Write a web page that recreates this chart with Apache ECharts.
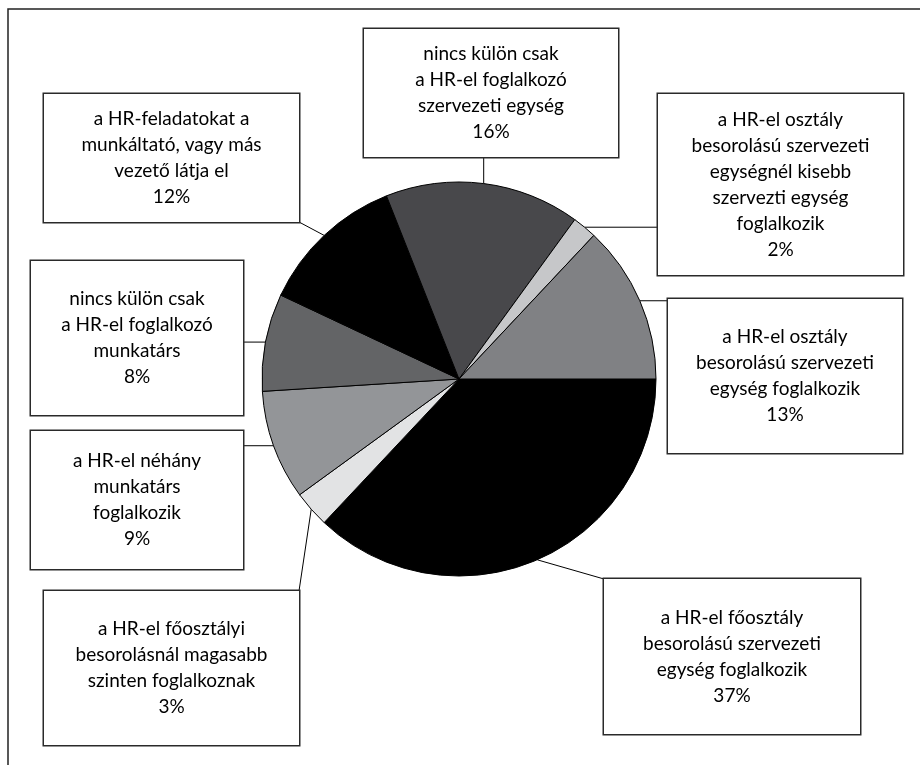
<!DOCTYPE html>
<html>
<head>
<meta charset="utf-8">
<script src="https://cdn.jsdelivr.net/npm/echarts@6/dist/echarts.min.js"></script>
<style>
  html, body { margin: 0; padding: 0; background: #fff; }
  #main { width: 920px; height: 765px; }
</style>
</head>
<body>
<div id="main"></div>
<script>
// slices, clockwise from 3 o'clock
var categories = [
    'a HR-el főosztály\nbesorolású szervezeti\negység foglalkozik',
    'a HR-el főosztályi\nbesorolásnál magasabb\nszinten foglalkoznak',
    'a HR-el néhány\nmunkatárs\nfoglalkozik',
    'nincs külön csak\na HR-el foglalkozó\nmunkatárs',
    'a HR-feladatokat a\nmunkáltató, vagy más\nvezető látja el',
    'nincs külön csak\na HR-el foglalkozó\nszervezeti egység',
    'a HR-el osztály\nbesorolású szervezeti\negységnél kisebb\nszervezti egység\nfoglalkozik',
    'a HR-el osztály\nbesorolású szervezeti\negység foglalkozik'
];
var values = [37, 3, 9, 8, 12, 16, 2, 13];
var colors = ['#000000', '#e2e3e4', '#939598', '#636466', '#000000', '#48484b', '#c6c7c9', '#808184'];

// label boxes: left, top, width, height (px)
var boxes = [
    [604, 579, 256, 155],
    [44, 591, 255, 154],
    [31, 431, 212, 138],
    [31, 261, 212, 154],
    [44, 94, 255, 128],
    [364, 29, 254, 128],
    [658, 94, 245, 181],
    [668, 299, 234, 154]
];
var LINE_H = 26;

(function () {
    var myChart = echarts.init(document.getElementById('main'));

    var data = values.map(function (v, i) {
        var b = boxes[i];
        var lines = categories[i].split('\n').length + 1;
        var pv = (b[3] - lines * LINE_H) / 2;
        return {
            name: categories[i],
            value: v,
            itemStyle: { color: colors[i] },
            label: { width: b[2], padding: [pv, 0, pv, 0] }
        };
    });

    myChart.setOption({
        backgroundColor: '#ffffff',
        animation: false,
        graphic: [{
            type: 'polyline',
            shape: { points: [[8, 765], [8, 9], [920, 9]] },
            style: { stroke: '#222', lineWidth: 1.5, fill: null }
        }],
        series: [{
            type: 'pie',
            center: [459, 379],
            radius: 197,
            startAngle: 0,
            clockwise: true,
            avoidLabelOverlap: false,
            itemStyle: { borderColor: '#000', borderWidth: 1 },
            label: {
                show: true,
                position: 'outside',
                formatter: '{b}\n{c}%',
                fontFamily: 'Lato',
                fontSize: 19,
                lineHeight: LINE_H,
                color: '#000',
                backgroundColor: '#fff',
                borderColor: '#2a2a2a',
                borderWidth: 1.5
            },
            labelLine: {
                show: true,
                length: 10,
                length2: 0,
                lineStyle: { color: '#000', width: 1 }
            },
            labelLayout: function (p) {
                var b = boxes[p.dataIndex];
                // connector: from slice edge point to the nearest point of the box
                var s = p.labelLinePoints[0];
                var ex = Math.min(Math.max(s[0], b[0]), b[0] + b[2]);
                var ey = Math.min(Math.max(s[1], b[1]), b[1] + b[3]);
                return {
                    x: b[0] + b[2] / 2,
                    y: b[1],
                    align: 'center',
                    verticalAlign: 'top',
                    labelLinePoints: [[s[0], s[1]], [ex, ey]]
                };
            },
            emphasis: { disabled: true },
            data: data
        }]
    });

    window.addEventListener('resize', function () {
        myChart.resize();
    });
})();
</script>
</body>
</html>
